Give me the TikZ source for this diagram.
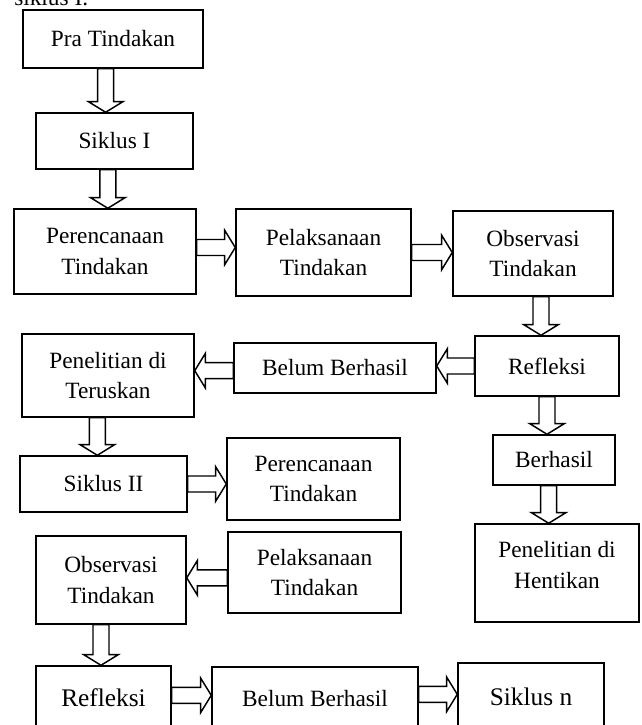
\documentclass[tikz,border=0pt]{standalone}
\usepackage{fontspec}
\setmainfont{Liberation Serif}
\usetikzlibrary{calc}

\begin{document}
\begin{tikzpicture}[x=0.75pt, y=-0.75pt,
  font=\fontsize{17.5}{23}\selectfont,
  box/.style 2 args={draw, line width=1.1pt, align=center, inner sep=0pt,
    minimum width=#1*0.75pt, minimum height=#2*0.75pt},
  bigtext/.style={font=\fontsize{19}{23}\selectfont},
  blockarrow/.style={draw, line width=1.1pt, line join=miter, to path={
    let \p1=(\tikztostart), \p2=(\tikztotarget),
        \p3=($(\p2)!8pt!(\p1)$) in
    ($(\p1)!6pt!90:(\p2)$) -- ($(\p3)!6pt!90:(\p2)$)
    -- ($(\p3)!13pt!90:(\p2)$) -- (\p2)
    -- ($(\p3)!13pt!-90:(\p2)$) -- ($(\p3)!6pt!-90:(\p2)$)
    -- ($(\p1)!6pt!-90:(\p2)$) -- cycle}}]

\useasboundingbox (0,0) rectangle (642,725);

% =====================
% Teks di atas (terpotong)
% =====================
\node[anchor=base west, inner sep=0pt] (judul) at (14,5) {siklus I.};

% =====================
% Siklus I
% =====================
\node[box={180}{58}] (pra) at (113,39) {Pra Tindakan};
\node[box={157}{56}] (siklusi) at (114.5,141) {Siklus I};
\node[box={182}{85}] (renc1) at (105,251.5) {Perencanaan\\Tindakan};
\node[box={175}{87}] (laks1) at (323.5,252.5) {Pelaksanaan\\Tindakan};
\node[box={160}{85}] (obs1) at (533,253.5) {Observasi\\Tindakan};
\node[box={144}{60}] (refl1) at (547,366) {Refleksi};
\node[box={202}{50}] (belum1) at (335,368) {Belum Berhasil};
\node[box={172}{83}] (terus) at (108,375.5) {Penelitian di\\Teruskan};
\node[box={122}{50}] (berhasil) at (554,460) {Berhasil};
\node[box={164}{98}] (henti) at (557,573) {Penelitian di\\Hentikan\\[-11pt]};

% =====================
% Siklus II
% =====================
\node[box={167}{56}] (siklusii) at (103.5,484) {Siklus II};
\node[box={173}{82}] (renc2) at (313.5,479) {Perencanaan\\Tindakan};
\node[box={173}{81}] (laks2) at (314.5,572.5) {Pelaksanaan\\Tindakan};
\node[box={150}{88}] (obs2) at (111,580) {Observasi\\Tindakan};
\node[box={135}{64}, bigtext] (refl2) at (103.5,698) {Refleksi};
\node[box={206}{64}] (belum2) at (315,699) {Belum Berhasil};
\node[box={146}{68}, bigtext] (siklusn) at (531,697) {Siklus n};

% =====================
% Panah
% =====================
\draw[blockarrow] ([xshift=-5.5pt]pra.south) to ([xshift=-5.5pt]pra.south |- siklusi.north);
\draw[blockarrow] ([xshift=-5pt]siklusi.south) to ([xshift=-5pt]siklusi.south |- renc1.north);
\draw[blockarrow] ([yshift=3pt]renc1.east) to ([yshift=3pt]renc1.east -| laks1.west);
\draw[blockarrow] (laks1.east) to (laks1.east -| obs1.west);
\draw[blockarrow] ([xshift=6pt]obs1.south) to ([xshift=6pt]obs1.south |- refl1.north);
\draw[blockarrow] (refl1.west) to (refl1.west -| belum1.east);
\draw[blockarrow] ([yshift=-2pt]belum1.west) to ([yshift=-2pt]belum1.west -| terus.east);
\draw[blockarrow] (refl1.south) to (refl1.south |- berhasil.north);
\draw[blockarrow] ([xshift=-4pt]berhasil.south) to ([xshift=-4pt]berhasil.south |- henti.north);
\draw[blockarrow] ([xshift=-8pt]terus.south) to ([xshift=-8pt]terus.south |- siklusii.north);
\draw[blockarrow] (siklusii.east) to (siklusii.east -| renc2.west);
\draw[blockarrow] ([yshift=-4pt]laks2.west) to ([yshift=-4pt]laks2.west -| obs2.east);
\draw[blockarrow] ([xshift=-7.5pt]obs2.south) to ([xshift=-7.5pt]obs2.south |- refl2.north);
\draw[blockarrow] ([yshift=2pt]refl2.east) to ([yshift=2pt]refl2.east -| belum2.west);
\draw[blockarrow] ([yshift=3.5pt]belum2.east) to ([yshift=3.5pt]belum2.east -| siklusn.west);

\end{tikzpicture}
\end{document}
